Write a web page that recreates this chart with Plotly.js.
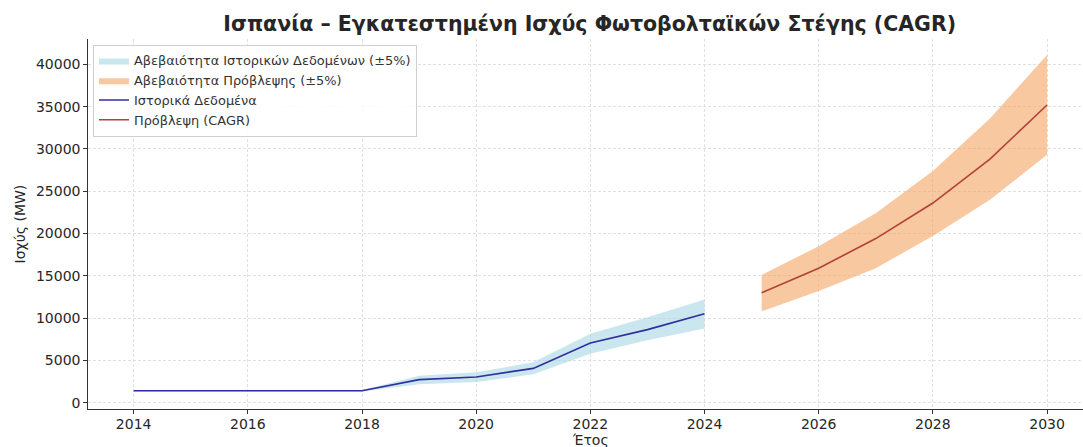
<!DOCTYPE html>
<html>
<head>
<meta charset="utf-8">
<script src="https://cdn.plot.ly/plotly-3.0.1.min.js"></script>
<style>html,body{margin:0;padding:0;background:#fff;}#chart{width:1083px;height:447px;}</style>
</head>
<body>
<div id="chart"></div>
<script>
const histYears = [2014, 2015, 2016, 2017, 2018, 2019, 2020, 2021, 2022, 2023, 2024];
const histValues = [1400, 1400, 1400, 1400, 1400, 2720, 3030, 4050, 7050, 8630, 10500];
const histUpper = [1480, 1480, 1480, 1480, 1480, 3190, 3580, 4760, 8150, 10100, 12200];
const histLower = [1320, 1320, 1320, 1320, 1320, 2160, 2440, 3350, 5790, 7360, 8750];

const fcYears = [2025, 2026, 2027, 2028, 2029, 2030];
const fcValues = [12980, 15900, 19400, 23600, 28800, 35200];
const fcUpper = [15100, 18500, 22400, 27400, 33600, 41100];
const fcLower = [10800, 13200, 15900, 19700, 24000, 29300];

const xTicks = [2014, 2016, 2018, 2020, 2022, 2024, 2026, 2028, 2030];
const yTicks = [0, 5000, 10000, 15000, 20000, 25000, 30000, 35000, 40000];

const labels = {
  title: 'Ισπανία – Εγκατεστημένη Ισχύς Φωτοβολταϊκών Στέγης (CAGR)',
  x: 'Έτος',
  y: 'Ισχύς (MW)',
  histBand: 'Αβεβαιότητα Ιστορικών Δεδομένων (±5%)',
  fcBand: 'Αβεβαιότητα Πρόβλεψης (±5%)',
  hist: 'Ιστορικά Δεδομένα',
  fc: 'Πρόβλεψη (CAGR)'
};

const FONT = 'DejaVu Sans, sans-serif';
const TXT = '#262626';

const traces = [
  {x: histYears, y: histLower, type: 'scatter', mode: 'lines', line: {width: 0, color: 'rgba(0,0,0,0)'}, showlegend: false, hoverinfo: 'skip'},
  {x: histYears, y: histUpper, type: 'scatter', mode: 'lines', fill: 'tonexty', fillcolor: 'rgba(173,216,230,0.65)', line: {width: 0, color: 'rgba(0,0,0,0)'}, name: labels.histBand},
  {x: fcYears, y: fcLower, type: 'scatter', mode: 'lines', line: {width: 0, color: 'rgba(0,0,0,0)'}, showlegend: false, hoverinfo: 'skip'},
  {x: fcYears, y: fcUpper, type: 'scatter', mode: 'lines', fill: 'tonexty', fillcolor: 'rgba(244,164,96,0.6)', line: {width: 0, color: 'rgba(0,0,0,0)'}, name: labels.fcBand},
  {x: histYears, y: histValues, type: 'scatter', mode: 'lines', line: {color: '#2f2f9f', width: 1.6}, name: labels.hist},
  {x: fcYears, y: fcValues, type: 'scatter', mode: 'lines', line: {color: '#b3403a', width: 1.6}, name: labels.fc}
];

const layout = {
  width: 1083, height: 447,
  margin: {l: 88, r: 0, t: 38.5, b: 38.3, pad: 0},
  paper_bgcolor: '#fff', plot_bgcolor: '#fff',
  font: {family: FONT, color: TXT, size: 14},
  title: {text: '<b>' + labels.title + '</b>', font: {family: FONT, size: 20.5, color: TXT}, x: 0.5445, xanchor: 'center', y: 1 - 24 / 447, yanchor: 'middle'},
  xaxis: {
    range: [2013.2, 2030.63], tickvals: xTicks, ticktext: xTicks.map(String),
    showgrid: true, gridcolor: '#e0e0e0', griddash: '3px,2px', gridwidth: 1,
    zeroline: false, showline: true, linecolor: '#333', linewidth: 1.2, mirror: false,
    ticks: 'outside', ticklen: 3.5, tickcolor: '#333', tickfont: {size: 14, color: TXT},
    ticklabelstandoff: -2
  },
  yaxis: {
    range: [-756, 43000], tickvals: yTicks, ticktext: yTicks.map(String),
    showgrid: true, gridcolor: '#e0e0e0', griddash: '3px,2px', gridwidth: 1,
    zeroline: false, showline: true, linecolor: '#333', linewidth: 1.2, mirror: false,
    ticks: 'outside', ticklen: 3.5, tickcolor: '#333', tickfont: {size: 14, color: TXT}
  },
  annotations: [
    {text: labels.x, xref: 'paper', yref: 'paper', x: (590 - 88) / 995, y: 1 - (440 - 38.5) / 370.2 , xanchor: 'center', yanchor: 'middle', showarrow: false, font: {family: FONT, size: 14, color: TXT}},
    {text: labels.y, xref: 'paper', yref: 'paper', x: (20 - 88) / 995, y: 1 - (224 - 38.5) / 370.2, xanchor: 'center', yanchor: 'middle', textangle: -90, showarrow: false, font: {family: FONT, size: 14, color: TXT}}
  ],
  legend: {
    x: 0.005, y: 0.985, xanchor: 'left', yanchor: 'top', traceorder: 'normal',
    bgcolor: 'rgba(255,255,255,0.85)', bordercolor: '#d0d0d0', borderwidth: 1,
    font: {family: FONT, size: 12.9, color: '#333'}, tracegroupgap: 0, itemwidth: 30
  },
  showlegend: true
};

Plotly.newPlot('chart', traces, layout, {displayModeBar: false, staticPlot: true});
</script>
</body>
</html>
